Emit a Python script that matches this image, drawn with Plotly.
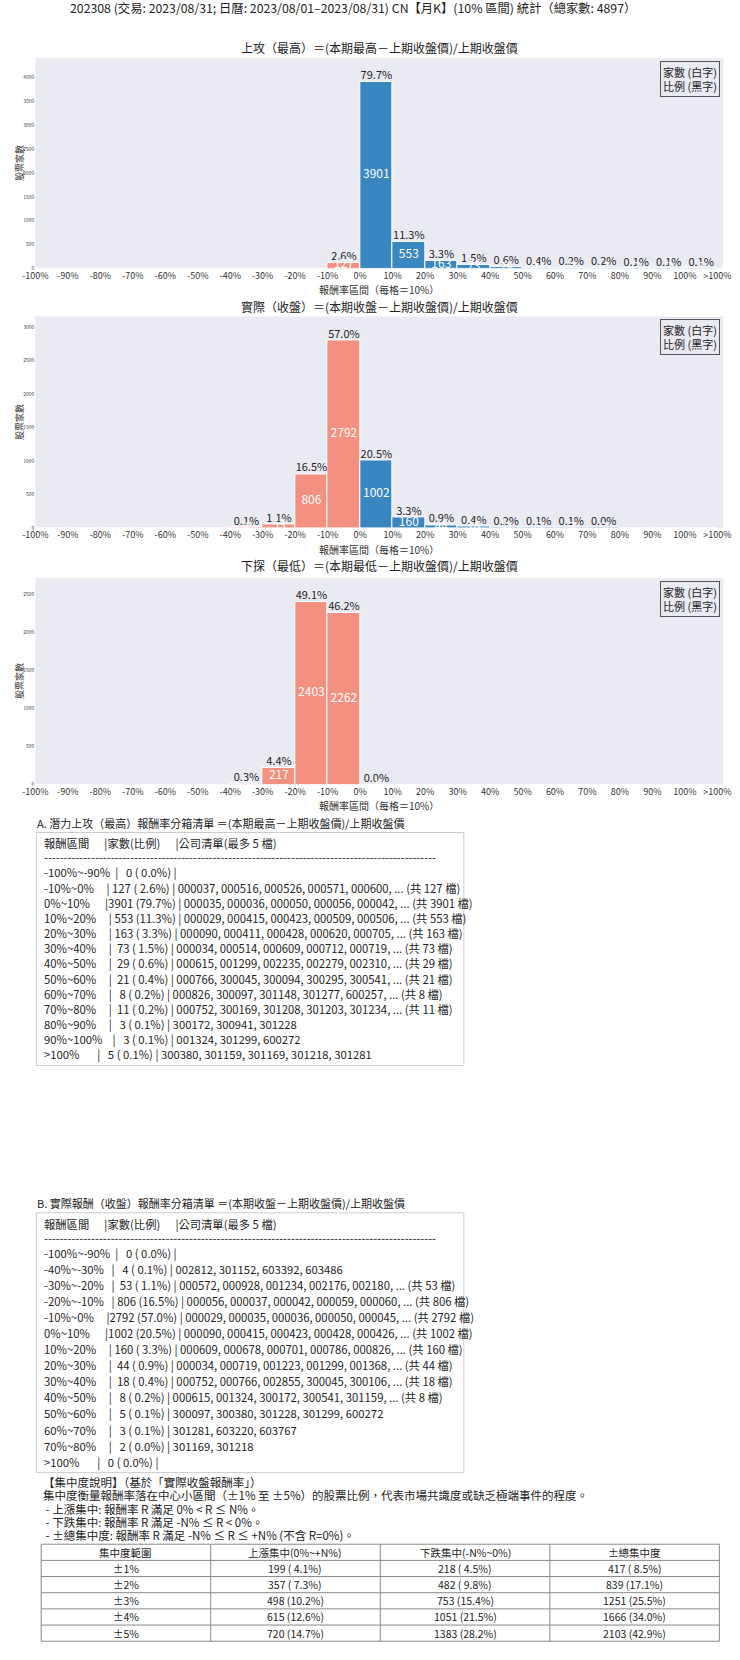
import plotly.graph_objects as go

# ---------------- data ----------------
total = 4897

bin_edges = [-100, -90, -80, -70, -60, -50, -40, -30, -20, -10, 0,
             10, 20, 30, 40, 50, 60, 70, 80, 90, 100, 110]
bin_labels = ["-100%~-90%", "-90%~-80%", "-80%~-70%", "-70%~-60%", "-60%~-50%",
              "-50%~-40%", "-40%~-30%", "-30%~-20%", "-20%~-10%", "-10%~0%",
              "0%~10%", "10%~20%", "20%~30%", "30%~40%", "40%~50%", "50%~60%",
              "60%~70%", "70%~80%", "80%~90%", "90%~100%", ">100%"]
tick_labels = ["-100%", "-90%", "-80%", "-70%", "-60%", "-50%", "-40%", "-30%",
               "-20%", "-10%", "0%", "10%", "20%", "30%", "40%", "50%", "60%",
               "70%", "80%", "90%", "100%", ">100%"]

high_counts = [0, 0, 0, 0, 0, 0, 0, 0, 0, 127, 3901, 553, 163, 73, 29, 21, 8, 11, 3, 3, 5]
close_counts = [0, 0, 0, 0, 0, 0, 4, 53, 806, 2792, 1002, 160, 44, 18, 8, 5, 3, 2, 0, 0, 0]
low_counts = [0, 0, 0, 0, 0, 0, 14, 217, 2403, 2262, 1, 0, 0, 0, 0, 0, 0, 0, 0, 0, 0]

high_codes = [[], [], [], [], [], [], [], [], [],
              ["000037", "000516", "000526", "000571", "000600"],
              ["000035", "000036", "000050", "000056", "000042"],
              ["000029", "000415", "000423", "000509", "000506"],
              ["000090", "000411", "000428", "000620", "000705"],
              ["000034", "000514", "000609", "000712", "000719"],
              ["000615", "001299", "002235", "002279", "002310"],
              ["000766", "300045", "300094", "300295", "300541"],
              ["000826", "300097", "301148", "301277", "600257"],
              ["000752", "300169", "301208", "301203", "301234"],
              ["300172", "300941", "301228"],
              ["001324", "301299", "600272"],
              ["300380", "301159", "301169", "301218", "301281"]]
close_codes = [[], [], [], [], [], [],
               ["002812", "301152", "603392", "603486"],
               ["000572", "000928", "001234", "002176", "002180"],
               ["000056", "000037", "000042", "000059", "000060"],
               ["000029", "000035", "000036", "000050", "000045"],
               ["000090", "000415", "000423", "000428", "000426"],
               ["000609", "000678", "000701", "000786", "000826"],
               ["000034", "000719", "001223", "001299", "001368"],
               ["000752", "000766", "002855", "300045", "300106"],
               ["000615", "001324", "300172", "300541", "301159"],
               ["300097", "300380", "301228", "301299", "600272"],
               ["301281", "603220", "603767"],
               ["301169", "301218"],
               [], [], []]

conc_header = ["集中度範圍", "上漲集中(0%~+N%)", "下跌集中(-N%~0%)", "±總集中度"]
conc_ranges = ["±1%", "±2%", "±3%", "±4%", "±5%"]
conc_up = [199, 357, 498, 615, 720]
conc_down = [218, 482, 753, 1051, 1383]
conc_total = [417, 839, 1251, 1666, 2103]

# ---------------- styling ----------------
FONT = "Noto Sans CJK TC"
RED = "#F4907F"
BLUE = "#3A86C1"
BG = "#EAEAF2"
INK = "#222222"
W, H = 740, 1660


def py(px):
    return 1 - px / H


def px_x(px):
    return px / W


def nb(s):
    return s.replace(" ", "\u00a0")


centers = [(bin_edges[i] + bin_edges[i + 1]) / 2 for i in range(len(bin_labels))]
colors = [RED if bin_edges[i] < 0 else BLUE for i in range(len(bin_labels))]

# title, counts, plot top, plot bottom, title y
charts = [
    ("上攻（最高）＝(本期最高－上期收盤價)/上期收盤價", high_counts, 58, 269, 48),
    ("實際（收盤）＝(本期收盤－上期收盤價)/上期收盤價", close_counts, 317, 529, 307),
    ("下探（最低）＝(本期最低－上期收盤價)/上期收盤價", low_counts, 579, 786, 567),
]

fig = go.Figure()
annotations = []
shapes = []
x0, x1 = 23, 731

for k, (title, counts, top, bottom, ty) in enumerate(charts):
    n = "" if k == 0 else str(k + 1)
    xa, ya = "x" + n, "y" + n
    fig.add_trace(go.Bar(
        x=centers, y=counts, width=10,
        marker=dict(color=colors, line=dict(color="white", width=1)),
        xaxis=xa, yaxis=ya, showlegend=False, hoverinfo="skip"))
    nz = [i for i, c in enumerate(counts) if c > 0]
    fig.add_trace(go.Scatter(
        x=[centers[i] for i in nz], y=[counts[i] for i in nz], mode="text",
        text=[f"{counts[i] / total * 100:.1f}%" for i in nz], textposition="top center",
        textfont=dict(size=11, color=INK), xaxis=xa, yaxis=ya, showlegend=False,
        hoverinfo="skip", cliponaxis=False))
    fig.add_trace(go.Scatter(
        x=[centers[i] for i in nz], y=[counts[i] / 2 for i in nz], mode="text",
        text=[str(counts[i]) for i in nz], textposition="middle center",
        textfont=dict(size=12, color="white"), xaxis=xa, yaxis=ya, showlegend=False,
        hoverinfo="skip"))

    fig.layout["xaxis" + n] = dict(
        domain=[px_x(x0), px_x(x1)], anchor=ya, range=[-100, 111.8],
        tickvals=bin_edges, ticktext=tick_labels, tickfont=dict(size=9, color="#333"),
        showgrid=False, zeroline=False, ticks="", ticklen=0)
    fig.layout["yaxis" + n] = dict(
        domain=[py(bottom), py(top)], anchor=xa, range=[0, max(counts) * 1.13],
        dtick=500, tickfont=dict(size=5, color="#444"), showgrid=False, zeroline=False,
        ticks="")

    annotations.append(dict(text=title, x=px_x((x0 + x1) / 2), y=py(ty), xref="paper", yref="paper",
                            showarrow=False, font=dict(size=12, color=INK), yanchor="middle"))
    annotations.append(dict(text="報酬率區間（每格＝10%）", x=px_x((x0 + x1) / 2), y=py(bottom + 21),
                            xref="paper", yref="paper", showarrow=False,
                            font=dict(size=10, color="#333"), yanchor="middle"))
    annotations.append(dict(text="股票家數", x=px_x(6), y=py((top + bottom) / 2), xref="paper",
                            yref="paper", showarrow=False, textangle=-90,
                            font=dict(size=9, color="#333"), xanchor="center", yanchor="middle"))
    annotations.append(dict(text="家數 (白字)<br>比例 (黑字)", x=px_x(x1 - 3), y=py(top + 3),
                            xref="paper", yref="paper", showarrow=False, xanchor="right", yanchor="top",
                            align="left", font=dict(size=11, color=INK),
                            bordercolor="#555", borderwidth=1, borderpad=2, bgcolor=BG))

annotations.append(dict(
    text="202308 (交易: 2023/08/31; 日曆: 2023/08/01–2023/08/31) CN【月K】(10% 區間) 統計（總家數: 4897）",
    x=px_x(350), y=py(8), xref="paper", yref="paper", showarrow=False,
    font=dict(size=12.3, color=INK), yanchor="middle"))


def list_rows(counts, codes):
    rows = []
    last = len(counts) - 1
    for i, c in enumerate(counts):
        if c == 0 and i not in (0, last):
            continue
        cs = ", ".join(codes[i])
        if c > 5:
            cs += f", ... (共 {c} 檔)"
        rows.append(f"{bin_labels[i]:<12}|{c:>4} ({c / total * 100:>4.1f}%) | {cs}".rstrip())
    return rows


# title, rows, title y, box top, row step
blocks = [
    ("A. 潛力上攻（最高）報酬率分箱清單 ＝(本期最高－上期收盤價)/上期收盤價",
     list_rows(high_counts, high_codes), 824, 834, 15.2),
    ("B. 實際報酬（收盤）報酬率分箱清單 ＝(本期收盤－上期收盤價)/上期收盤價",
     list_rows(close_counts, close_codes), 1205, 1215, 16.1),
]
for title, rows, ty, top, step in blocks:
    annotations.append(dict(text=title, x=px_x(23), y=py(ty), xref="paper", yref="paper", showarrow=False,
                            xanchor="left", yanchor="middle", font=dict(size=11, color=INK)))
    lines = ["報酬區間      |家數(比例)      |公司清單(最多 5 檔)", "-" * 100] + rows
    ys = [top + 11, top + 25] + [top + 40 + j * step for j in range(len(rows))]
    for t, yy in zip(lines, ys):
        annotations.append(dict(text=nb(t), x=px_x(30), y=py(yy), xref="paper", yref="paper",
                                showarrow=False, xanchor="left", yanchor="middle",
                                font=dict(size=11.3, color=INK)))
    shapes.append(dict(type="rect", xref="paper", yref="paper", x0=px_x(24), x1=px_x(464),
                       y0=py(ys[-1] + 11), y1=py(top), line=dict(color="#CCCCCC", width=1),
                       fillcolor="rgba(0,0,0,0)"))

# concentration notes
conc_lines = [
    "【集中度說明】（基於「實際收盤報酬率」）",
    "集中度衡量報酬率落在中心小區間（±1% 至 ±5%）的股票比例，代表市場共識度或缺乏極端事件的程度。",
    " - 上漲集中: 報酬率 R 滿足 0% < R ≤ N%。",
    " - 下跌集中: 報酬率 R 滿足 -N% ≤ R < 0%。",
    " - ±總集中度: 報酬率 R 滿足 -N% ≤ R ≤ +N% (不含 R=0%)。",
]
t_top, row_h = 1547, 16.2
for j, t in enumerate(conc_lines):
    annotations.append(dict(text=nb(t), x=px_x(29), y=py(t_top - 62 + j * 13.2), xref="paper",
                            yref="paper", showarrow=False, xanchor="left", yanchor="middle",
                            font=dict(size=11.5, color=INK)))


def fmt(c):
    return f"{c} ({c / total * 100:4.1f}%)"


# concentration table drawn with lines and centred cell texts
tx0, tx1 = 29, 727
col_w = (tx1 - tx0) / len(conc_header)
table_rows = [conc_header] + [[conc_ranges[r], fmt(conc_up[r]), fmt(conc_down[r]), fmt(conc_total[r])]
                              for r in range(len(conc_ranges))]
t_bottom = t_top + row_h * len(table_rows)
for r, row in enumerate(table_rows):
    for c, val in enumerate(row):
        annotations.append(dict(text=nb(val), x=px_x(tx0 + col_w * (c + 0.5)),
                                y=py(t_top + row_h * (r + 0.5)), xref="paper", yref="paper",
                                showarrow=False, xanchor="center", yanchor="middle",
                                font=dict(size=10.5, color=INK)))
for r in range(len(table_rows) + 1):
    shapes.append(dict(type="line", xref="paper", yref="paper", x0=px_x(tx0), x1=px_x(tx1),
                       y0=py(t_top + row_h * r), y1=py(t_top + row_h * r),
                       line=dict(color="#888888", width=1)))
for c in range(len(conc_header) + 1):
    shapes.append(dict(type="line", xref="paper", yref="paper", x0=px_x(tx0 + col_w * c),
                       x1=px_x(tx0 + col_w * c), y0=py(t_top), y1=py(t_bottom),
                       line=dict(color="#888888", width=1)))

fig.update_layout(
    width=W, height=H, margin=dict(l=0, r=0, t=0, b=0),
    paper_bgcolor="white", plot_bgcolor=BG,
    font=dict(family=FONT, color=INK),
    annotations=annotations, shapes=shapes, bargap=0,
)

fig.write_html("out.html", config={"displayModeBar": False},
               post_script="document.body.style.margin='0px';")
